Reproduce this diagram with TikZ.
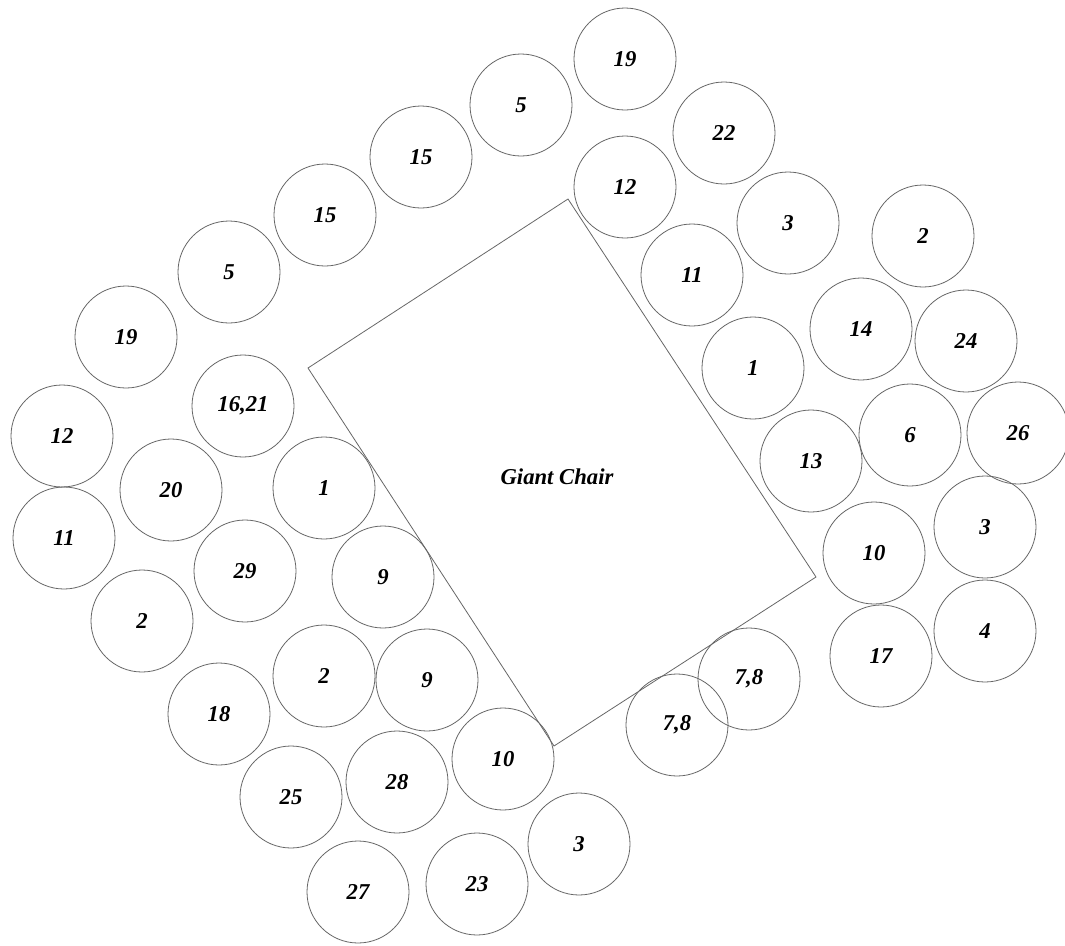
\documentclass[tikz,border=0pt]{standalone}
\usepackage{fontspec}
\setmainfont{Liberation Serif}
\begin{document}
\begin{tikzpicture}[x=0.75pt,y=-0.75pt,
  seat/.style={circle, draw=black!60, line width=0.6pt, minimum size=76.5pt, inner sep=0pt,
    font=\fontsize{17}{17}\selectfont\bfseries\itshape},
  chair/.style={draw=black!60, line width=0.6pt},
  lbl/.style={font=\fontsize{17}{17}\selectfont\bfseries\itshape}]
\useasboundingbox (0,0) rectangle (1065,946);
% giant chair
\coordinate (ct) at (568,199);
\coordinate (cr) at (816,577);
\coordinate (cb) at (554,746);
\coordinate (cl) at (308,368);
\draw[chair] (ct) -- (cr) -- (cb) -- (cl) -- cycle;
\node[lbl] (gc) at (557,477) {Giant Chair};
% outer left/top arc
\node[seat] (a1) at (625,59) {19};
\node[seat] (a2) at (521,105) {5};
\node[seat] (a3) at (421,157) {15};
\node[seat] (a4) at (325,215) {15};
\node[seat] (a5) at (229,272) {5};
\node[seat] (a6) at (126,337) {19};
\node[seat] (a7) at (62,436) {12};
\node[seat] (a8) at (64,538) {11};
\node[seat] (a9) at (142,621) {2};
\node[seat] (a10) at (219,714) {18};
\node[seat] (a11) at (291,797) {25};
\node[seat] (a12) at (358,892) {27};
\node[seat] (a13) at (477,884) {23};
\node[seat] (a14) at (579,844) {3};
% inner left group
\node[seat] (b1) at (243,406) {16,21};
\node[seat] (b2) at (171,490) {20};
\node[seat] (b3) at (324,488) {1};
\node[seat] (b4) at (245,571) {29};
\node[seat] (b5) at (383,577) {9};
\node[seat] (b6) at (324,676) {2};
\node[seat] (b7) at (427,680) {9};
\node[seat] (b8) at (397,782) {28};
\node[seat] (b9) at (503,759) {10};
% right group
\node[seat] (c1) at (724,133) {22};
\node[seat] (c2) at (625,187) {12};
\node[seat] (c3) at (788,223) {3};
\node[seat] (c4) at (692,275) {11};
\node[seat] (c5) at (923,236) {2};
\node[seat] (c6) at (861,329) {14};
\node[seat] (c7) at (966,341) {24};
\node[seat] (c8) at (753,368) {1};
\node[seat] (c9) at (910,435) {6};
\node[seat] (c10) at (1018,433) {26};
\node[seat] (c11) at (811,461) {13};
\node[seat] (c12) at (985,527) {3};
\node[seat] (c13) at (874,553) {10};
\node[seat] (c14) at (985,631) {4};
\node[seat] (c15) at (881,656) {17};
\node[seat] (c16) at (749,679) {7,8};
\node[seat] (c17) at (677,725) {7,8};
\end{tikzpicture}
\end{document}
